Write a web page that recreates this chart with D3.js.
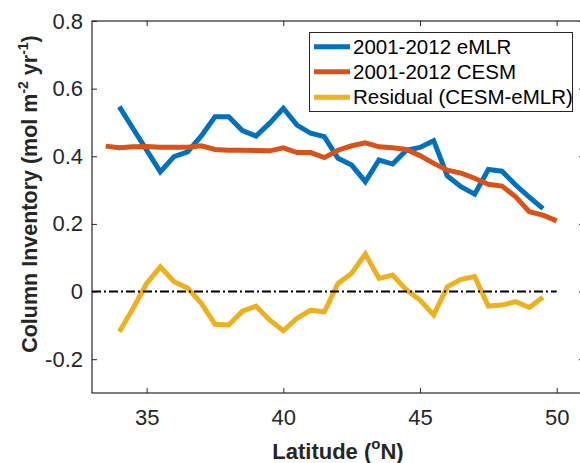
<!DOCTYPE html>
<html>
<head>
<meta charset="utf-8">
<script src="https://cdn.jsdelivr.net/npm/d3@7"></script>
<style>
  body { margin: 0; background: #fff; }
  svg { font-family: "Liberation Sans", Arial, sans-serif; }
</style>
</head>
<body>
<div id="chart"></div>
<script>
// Data
const latEmlr = [34, 34.5, 35, 35.5, 36, 36.5, 37, 37.5, 38, 38.5, 39, 39.5, 40, 40.5, 41, 41.5,
  42, 42.5, 43, 43.5, 44, 44.5, 45, 45.5, 46, 46.5, 47, 47.5, 48, 48.5, 49, 49.5];
const emlr = [0.547, 0.482, 0.418, 0.354, 0.399, 0.413, 0.460, 0.517, 0.517, 0.476, 0.460, 0.498,
  0.542, 0.492, 0.468, 0.458, 0.394, 0.374, 0.325, 0.389, 0.377, 0.418, 0.426, 0.446,
  0.342, 0.310, 0.288, 0.361, 0.356, 0.315, 0.279, 0.245];

const latCesm = [33.5, 34, 34.5, 35, 35.5, 36, 36.5, 37, 37.5, 38, 38.5, 39, 39.5, 40, 40.5, 41, 41.5,
  42, 42.5, 43, 43.5, 44, 44.5, 45, 45.5, 46, 46.5, 47, 47.5, 48, 48.5, 49, 49.5, 50];
const cesm = [0.430, 0.425, 0.428, 0.429, 0.427, 0.427, 0.427, 0.431, 0.420, 0.418, 0.418, 0.417,
  0.416, 0.425, 0.411, 0.411, 0.396, 0.418, 0.431, 0.440, 0.428, 0.425, 0.420, 0.402,
  0.379, 0.359, 0.350, 0.335, 0.317, 0.312, 0.280, 0.236, 0.226, 0.209];

const latResid = latEmlr;
const resid = [-0.119, -0.050, 0.024, 0.073, 0.029, 0.010, -0.035, -0.097, -0.099, -0.058, -0.043,
  -0.084, -0.116, -0.079, -0.055, -0.060, 0.024, 0.054, 0.111, 0.039, 0.049, 0.005,
  -0.025, -0.069, 0.014, 0.036, 0.044, -0.043, -0.040, -0.030, -0.047, -0.017];

const xTicks = [35, 40, 45, 50];
const yTicks = [-0.2, 0, 0.2, 0.4, 0.6, 0.8];
const zeroLine = [33, 50];

const seriesNames = ["2001-2012 eMLR", "2001-2012 CESM", "Residual (CESM-eMLR)"];
const seriesColors = ["#0072BD", "#D95319", "#EDB120"];

// Layout
const W = 580, H = 463;
const plot = { left: 92, right: 584, top: 21, bottom: 393 };
const axisColor = "#262626";

const svg = d3.select("#chart")
  .append("svg")
  .attr("width", W)
  .attr("height", H);

const x = d3.scaleLinear().domain([33, 51]).range([plot.left, plot.right]);
const y = d3.scaleLinear().domain([-0.3, 0.8]).range([plot.bottom, plot.top]);

const fmt = d => d === 0 ? "0" : d.toFixed(1);

// Axes (ticks pointing inward)
function styleAxis(g) {
  g.select(".domain").remove();
  g.selectAll(".tick line").attr("stroke", axisColor).attr("stroke-width", 1);
  g.selectAll(".tick text")
    .attr("fill", axisColor)
    .style("font-size", "22px")
    .style("font-family", "'Liberation Sans', Arial, sans-serif");
}

svg.append("g")
  .attr("transform", `translate(0,${plot.bottom})`)
  .call(d3.axisBottom(x).tickValues(xTicks).tickSize(-5).tickPadding(16))
  .call(styleAxis);

svg.append("g")
  .attr("transform", `translate(0,${plot.top})`)
  .call(d3.axisTop(x).tickValues(xTicks).tickSize(-5).tickFormat(""))
  .call(styleAxis);

svg.append("g")
  .attr("transform", `translate(${plot.left},0)`)
  .call(d3.axisLeft(y).tickValues(yTicks).tickSize(-5).tickPadding(9).tickFormat(fmt))
  .call(styleAxis);

svg.append("g")
  .attr("transform", `translate(${plot.right},0)`)
  .call(d3.axisRight(y).tickValues(yTicks).tickSize(-5).tickFormat(""))
  .call(styleAxis);

svg.append("rect")
  .attr("x", plot.left)
  .attr("y", plot.top)
  .attr("width", plot.right - plot.left)
  .attr("height", plot.bottom - plot.top)
  .attr("fill", "none")
  .attr("stroke", axisColor)
  .attr("stroke-width", 1.2);

// Lines
const line = d3.line()
  .x(d => x(d[0]))
  .y(d => y(d[1]));

const series = [
  d3.zip(latEmlr, emlr),
  d3.zip(latCesm, cesm),
  d3.zip(latResid, resid)
];

series.forEach((s, i) => {
  svg.append("path")
    .datum(s)
    .attr("fill", "none")
    .attr("stroke", seriesColors[i])
    .attr("stroke-width", 5)
    .attr("d", line);
});

// Zero reference line
svg.append("path")
  .datum(zeroLine.map(v => [v, 0]))
  .attr("fill", "none")
  .attr("stroke", "#000")
  .attr("stroke-width", 2)
  .attr("stroke-dasharray", "9,3,2,3")
  .attr("d", line);

// Legend
const legend = svg.append("g");
legend.append("rect")
  .attr("x", 309.5)
  .attr("y", 32.5)
  .attr("width", 263)
  .attr("height", 79)
  .attr("fill", "#fff")
  .attr("stroke", axisColor)
  .attr("stroke-width", 1);

const rowY = [46.7, 71.7, 97.3];
seriesNames.forEach((name, i) => {
  legend.append("line")
    .attr("x1", 314)
    .attr("x2", 350)
    .attr("y1", rowY[i])
    .attr("y2", rowY[i])
    .attr("stroke", seriesColors[i])
    .attr("stroke-width", 5);
  legend.append("text")
    .attr("x", 353)
    .attr("y", rowY[i] + 7)
    .style("font-size", "20.5px")
    .attr("fill", "#000")
    .text(name);
});

// Axis titles
const xTitle = svg.append("text")
  .attr("x", (plot.left + plot.right) / 2)
  .attr("y", 459)
  .attr("text-anchor", "middle")
  .style("font-size", "22px")
  .style("font-weight", "bold")
  .attr("fill", axisColor);
xTitle.append("tspan").text("Latitude (");
xTitle.append("tspan").attr("dy", -10).style("font-size", "15px").text("o");
xTitle.append("tspan").attr("dy", 10).text("N)");

const yTitle = svg.append("text")
  .attr("transform", "translate(37,194) rotate(-90)")
  .attr("text-anchor", "middle")
  .style("font-size", "21.5px")
  .style("font-weight", "bold")
  .attr("fill", axisColor);
yTitle.append("tspan").text("Column Inventory (mol m");
yTitle.append("tspan").attr("dy", -9).style("font-size", "14px").text("-2");
yTitle.append("tspan").attr("dy", 9).text(" yr");
yTitle.append("tspan").attr("dy", -9).style("font-size", "14px").text("-1");
yTitle.append("tspan").attr("dy", 9).text(")");
</script>
</body>
</html>
